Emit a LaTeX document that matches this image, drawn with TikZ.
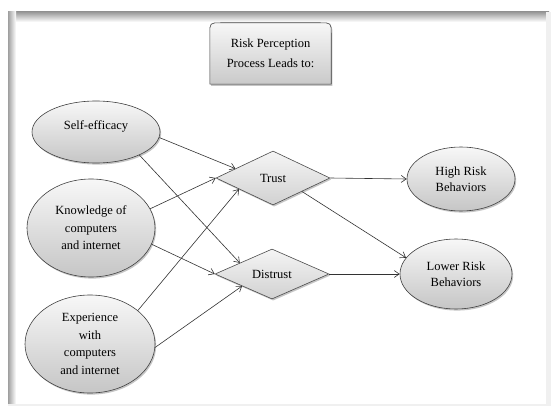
\documentclass[tikz,border=0pt]{standalone}
\usepackage{fontspec}
\setmainfont{Liberation Serif}
\usetikzlibrary{shapes.geometric,shadows,arrows.meta,backgrounds,calc}

\begin{document}
\begin{tikzpicture}[x=1pt,y=-1pt,
  every node/.style={font=\fontsize{12.5}{17.5}\selectfont, align=center, inner sep=0pt, text=black},
  softshadow/.style={drop shadow={shadow xshift=1.2pt, shadow yshift=-1.6pt, opacity=0.45}},
  bubble/.style={ellipse, draw=black!75, line width=0.6pt, top color=gray!6, bottom color=gray!45, softshadow},
  gate/.style={diamond, draw=black!70, line width=0.6pt, top color=gray!8, bottom color=gray!36, softshadow},
  link/.style={draw=black!80, line width=0.6pt, -{Straight Barb[length=5pt,width=7pt]}},
]
\useasboundingbox (0,0) rectangle (551,406);

% page frame with inner shading along the top and left edges
\begin{scope}[on background layer]
  \fill[white] (0,0) rectangle (551,406);
  \shade[top color=gray!80, bottom color=white] (8,12) rectangle (549,22);
  \shade[left color=gray!75, right color=white] (8,12) rectangle (16,406);
  \fill[gray!12] (546,12) rectangle (551,406);
  \fill[gray!12] (8,404) rectangle (551,406);
\end{scope}

% heading box
\node[font=\fontsize{12.5}{20}\selectfont, minimum width=121pt, minimum height=61pt] (title) at (270.5,53.5) {Risk Perception\\Process Leads to:};
\begin{scope}[on background layer]
  \path[draw=black!75, line width=0.6pt, top color=gray!6, bottom color=gray!42, softshadow]
    (title.south west) -- ($(title.north west)+(0,11)$)
    .. controls (title.north west) .. ($(title.north west)+(11,0)$)
    -- ($(title.north east)+(-11,0)$)
    .. controls (title.north east) .. ($(title.north east)+(0,11)$)
    -- (title.south east) -- cycle;
\end{scope}

% antecedents
\node[bubble, minimum width=128pt, minimum height=62pt, text depth=14pt] (se) at (96,132) {Self-efficacy};
\node[bubble, minimum width=128pt, minimum height=98pt] (kn) at (91,228) {Knowledge of\\computers\\and internet};
\node[bubble, minimum width=130pt, minimum height=98pt] (ex) at (90,344) {Experience\\with\\computers\\and internet};

% mediators
\node[gate, minimum width=114pt, minimum height=54pt] (trust) at (273,178) {Trust};
\node[gate, minimum width=114pt, minimum height=50pt] (distrust) at (272,274) {Distrust};

% outcomes
\node[bubble, font=\fontsize{12.5}{16.5}\selectfont, minimum width=108pt, minimum height=64pt] (high) at (461,179) {High Risk\\Behaviors};
\node[bubble, font=\fontsize{12.5}{16.5}\selectfont, minimum width=112pt, minimum height=70pt] (low) at (456,274) {Lower Risk\\Behaviors};

% connectors
\draw[link] (se.-5) -- (trust.166);
\draw[link] (se.-28) -- (distrust.161);
\draw[link] (kn.18) -- (trust.west);
\draw[link] (kn.-15) -- (distrust.west);
\draw[link] (ex.35) -- (trust.-162);
\draw[link] (ex.-3) -- (distrust.-158);
\draw[link] (trust.east) -- (high.west);
\draw[link] (trust.-25) -- (low.162);
\draw[link] (distrust.east) -- (low.west);
\end{tikzpicture}
\end{document}
